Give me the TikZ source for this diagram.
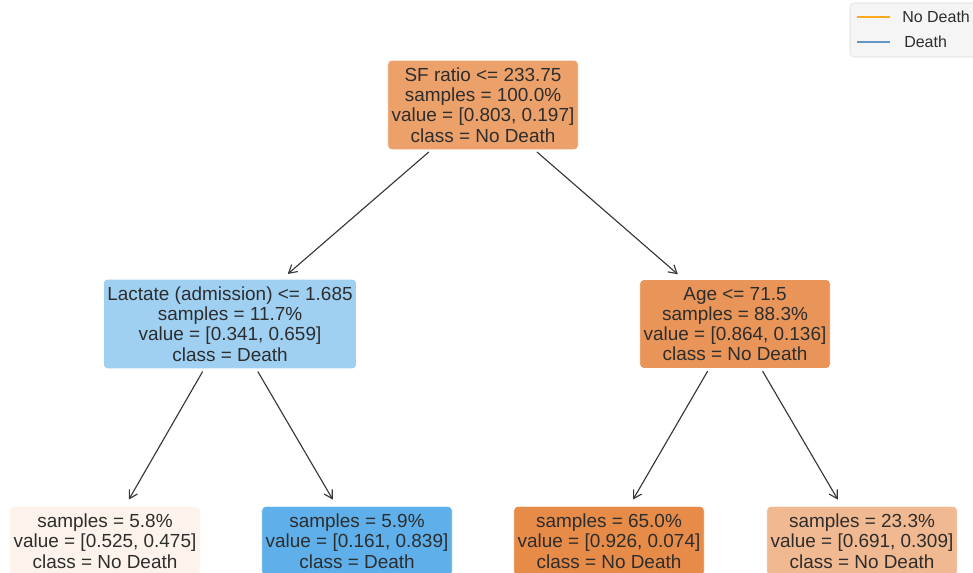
\documentclass[tikz,border=0pt]{standalone}
\usepackage{fontspec}
\setmainfont{Liberation Sans}
\usetikzlibrary{arrows.meta}

\definecolor{txtgray}{RGB}{45,45,45}
\definecolor{edgegray}{RGB}{55,55,55}
\definecolor{rootcol}{RGB}{236,161,107}
\definecolor{lactcol}{RGB}{159,208,242}
\definecolor{agecol}{RGB}{233,149,89}
\definecolor{leafacol}{RGB}{253,243,236}
\definecolor{leafbcol}{RGB}{95,176,234}
\definecolor{leafccol}{RGB}{231,139,73}
\definecolor{leafdcol}{RGB}{241,185,146}
\definecolor{legorange}{RGB}{255,170,30}
\definecolor{legblue}{RGB}{100,150,200}

\tikzset{
  treebox/.style = {rounded corners=3pt, draw=white, line width=0.6pt, text=txtgray,
    align=center, inner xsep=3pt, inner ysep=5.6pt,
    font=\fontsize{14.2}{15.2}\selectfont},
  treeedge/.style = {-{Straight Barb[length=6pt,width=7pt]}, draw=edgegray, line width=0.85pt,
    shorten <=2pt, shorten >=5.5pt},
  legtext/.style = {anchor=west, text=txtgray, font=\fontsize{12}{14}\selectfont, inner sep=0pt},
}

\begin{document}
\begin{tikzpicture}[x=0.75pt, y=-0.75pt]
\useasboundingbox (0,0) rectangle (973,573);
\clip (0,0) rectangle (973,573);

\node[treebox, fill=rootcol] (root) at (483,105){SF ratio <= 233.75\\samples = 100.0\%\\value = [0.803, 0.197]\\class = No Death};
\node[treebox, fill=lactcol] (lact) at (230,324){Lactate (admission) <= 1.685\\samples = 11.7\%\\value = [0.341, 0.659]\\class = Death};
\node[treebox, fill=agecol] (age) at (735,324){Age <= 71.5\\samples = 88.3\%\\value = [0.864, 0.136]\\class = No Death};

\node[treebox, fill=leafacol] (leafa) at (105,541){samples = 5.8\%\\value = [0.525, 0.475]\\class = No Death};
\node[treebox, fill=leafbcol] (leafb) at (357,541){samples = 5.9\%\\value = [0.161, 0.839]\\class = Death};
\node[treebox, fill=leafccol] (leafc) at (609,541){samples = 65.0\%\\value = [0.926, 0.074]\\class = No Death};
\node[treebox, fill=leafdcol] (leafd) at (862,541){samples = 23.3\%\\value = [0.691, 0.309]\\class = No Death};

\draw[treeedge] (root) -- (lact);
\draw[treeedge] (root) -- (age);
\draw[treeedge] (lact) -- (leafa);
\draw[treeedge] (lact) -- (leafb);
\draw[treeedge] (age) -- (leafc);
\draw[treeedge] (age) -- (leafd);

% legend
\draw[rounded corners=3pt, draw=black!15, fill=black!4] (850,3) rectangle (985,57);
\draw[legorange, line width=1.2pt] (857,17) -- (890,17);
\draw[legblue, line width=1.2pt] (857,42) -- (890,42);
\node[legtext] (lgnd) at (902,17){No Death};
\node[legtext] (lgd) at (904,42){Death};
\end{tikzpicture}
\end{document}
